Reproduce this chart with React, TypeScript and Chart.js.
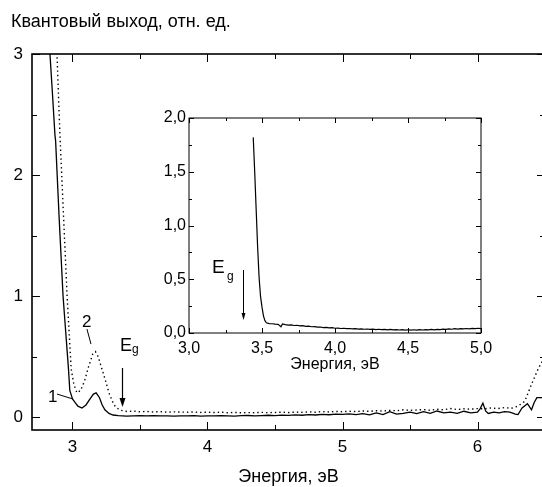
import { useEffect, useRef } from "react";
import { Chart, registerables } from "chart.js";

Chart.register(...registerables);

// ---------- data ----------
const curve1Energy = [2.82, 2.833, 2.85, 2.87, 2.875, 2.9, 2.93, 2.95, 2.97, 2.98, 3.0, 3.02, 3.04, 3.07, 3.1, 3.13, 3.155, 3.175, 3.2, 3.22, 3.24, 3.27, 3.3, 3.34, 3.4, 3.45, 3.5, 3.55, 3.6, 3.65, 3.7, 3.75, 3.8, 3.85, 3.9, 3.95, 4.0, 4.05, 4.1, 4.15, 4.2, 4.25, 4.3, 4.35, 4.4, 4.45, 4.5, 4.55, 4.6, 4.65, 4.7, 4.75, 4.8, 4.85, 4.9, 4.95, 5.0, 5.05, 5.1, 5.15, 5.2, 5.25, 5.3, 5.35, 5.4, 5.45, 5.5, 5.55, 5.6, 5.65, 5.7, 5.75, 5.8, 5.85, 5.9, 5.95, 6.0, 6.02, 6.04, 6.06, 6.08, 6.12, 6.16, 6.2, 6.24, 6.28, 6.3, 6.33, 6.37, 6.4, 6.42, 6.44, 6.5];
const curve1Yield = [3.4, 3.0, 2.7, 2.33, 2.28, 1.67, 1.0, 0.7, 0.4, 0.22, 0.15, 0.12, 0.09, 0.075, 0.1, 0.15, 0.19, 0.2, 0.16, 0.1, 0.06, 0.03, 0.017, 0.012, 0.008, 0.01, 0.012, 0.01, 0.011, 0.009, 0.01, 0.008, 0.01, 0.009, 0.011, 0.008, 0.01, 0.009, 0.012, 0.01, 0.008, 0.011, 0.013, 0.01, 0.012, 0.015, 0.012, 0.016, 0.014, 0.018, 0.015, 0.02, 0.017, 0.022, 0.019, 0.024, 0.022, 0.026, 0.02, 0.028, 0.018, 0.035, 0.02, 0.045, 0.025, 0.03, 0.04, 0.028, 0.045, 0.03, 0.05, 0.035, 0.04, 0.03, 0.048, 0.035, 0.04, 0.07, 0.115, 0.05, 0.03, 0.04, 0.035, 0.045, 0.04, 0.025, 0.02, 0.075, 0.11, 0.06, 0.12, 0.16, 0.16];

const curve2Energy = [2.87, 2.885, 2.907, 2.93, 2.96, 2.99, 3.01, 3.033, 3.06, 3.09, 3.12, 3.15, 3.17, 3.19, 3.22, 3.25, 3.27, 3.3, 3.32, 3.36, 3.41, 3.45, 3.5, 3.55, 3.6, 3.65, 3.7, 3.75, 3.8, 3.85, 3.9, 3.95, 4.0, 4.05, 4.1, 4.15, 4.2, 4.25, 4.3, 4.35, 4.4, 4.45, 4.5, 4.55, 4.6, 4.65, 4.7, 4.75, 4.8, 4.85, 4.9, 4.95, 5.0, 5.05, 5.1, 5.15, 5.2, 5.25, 5.3, 5.35, 5.4, 5.45, 5.5, 5.55, 5.6, 5.65, 5.7, 5.75, 5.8, 5.85, 5.9, 5.95, 6.0, 6.05, 6.1, 6.15, 6.2, 6.25, 6.3, 6.35, 6.4, 6.45, 6.5];
const curve2Yield = [3.3, 3.0, 2.33, 1.75, 1.0, 0.4, 0.27, 0.2, 0.22, 0.3, 0.42, 0.52, 0.54, 0.5, 0.39, 0.28, 0.2, 0.12, 0.08, 0.055, 0.045, 0.05, 0.044, 0.046, 0.042, 0.045, 0.04, 0.043, 0.041, 0.04, 0.042, 0.038, 0.04, 0.037, 0.04, 0.036, 0.038, 0.035, 0.037, 0.036, 0.039, 0.036, 0.038, 0.04, 0.037, 0.041, 0.039, 0.043, 0.04, 0.045, 0.042, 0.046, 0.044, 0.048, 0.045, 0.05, 0.047, 0.052, 0.05, 0.055, 0.052, 0.06, 0.055, 0.058, 0.062, 0.056, 0.065, 0.06, 0.07, 0.062, 0.068, 0.065, 0.07, 0.068, 0.075, 0.07, 0.078, 0.072, 0.09, 0.13, 0.27, 0.4, 0.5];

const insetEnergy = [3.44, 3.45, 3.46, 3.47, 3.48, 3.49, 3.5, 3.51, 3.52, 3.53, 3.55, 3.57, 3.59, 3.61, 3.63, 3.64, 3.66, 3.68, 3.7, 3.72, 3.74, 3.76, 3.78, 3.8, 3.82, 3.84, 3.86, 3.88, 3.9, 3.92, 3.94, 3.96, 3.98, 4.0, 4.02, 4.04, 4.06, 4.08, 4.1, 4.12, 4.14, 4.16, 4.18, 4.2, 4.22, 4.24, 4.26, 4.28, 4.3, 4.32, 4.34, 4.36, 4.38, 4.4, 4.42, 4.44, 4.46, 4.48, 4.5, 4.52, 4.54, 4.56, 4.58, 4.6, 4.62, 4.64, 4.66, 4.68, 4.7, 4.72, 4.74, 4.76, 4.78, 4.8, 4.82, 4.84, 4.86, 4.88, 4.9, 4.92, 4.94, 4.96, 4.98, 5.0];
const insetYield = [1.82, 1.5, 1.15, 0.8, 0.52, 0.34, 0.24, 0.16, 0.115, 0.095, 0.088, 0.086, 0.082, 0.08, 0.058, 0.085, 0.078, 0.074, 0.076, 0.07, 0.072, 0.066, 0.068, 0.062, 0.064, 0.058, 0.06, 0.054, 0.056, 0.05, 0.052, 0.048, 0.05, 0.044, 0.046, 0.042, 0.044, 0.04, 0.042, 0.038, 0.04, 0.036, 0.039, 0.035, 0.037, 0.033, 0.036, 0.032, 0.035, 0.031, 0.034, 0.03, 0.033, 0.029, 0.032, 0.028, 0.031, 0.027, 0.03, 0.026, 0.03, 0.027, 0.031, 0.028, 0.032, 0.029, 0.033, 0.03, 0.034, 0.031, 0.036, 0.033, 0.038, 0.035, 0.04, 0.036, 0.041, 0.038, 0.042, 0.039, 0.043, 0.04, 0.044, 0.041];

const mainXTicks = [3, 4, 5, 6];
const mainXMinor = [3, 3.5, 4, 4.5, 5, 5.5, 6, 6.5];
const mainYTicks = [0, 1, 2, 3];
const mainYMinor = [0, 0.5, 1, 1.5, 2, 2.5, 3];
const insetXTicks = [3, 3.5, 4, 4.5, 5];
const insetXMinor = [3, 3.25, 3.5, 3.75, 4, 4.25, 4.5, 4.75, 5];
const insetYTicks = [0, 0.5, 1, 1.5, 2];
const insetYMinor = [0, 0.25, 0.5, 0.75, 1, 1.25, 1.5, 1.75, 2];

const yTitle = "Квантовый выход, отн. ед.";
const xTitle = "Энергия, эВ";

const FONT = '"Liberation Sans", Arial, sans-serif';

// ---------- layout ----------
const W = 556;
const H = 487;
const IL = 140;
const IT = 95;
const IW = 360;
const IH = 290;

function toPts(xs: number[], ys: number[]) {
  return xs.map((x, i) => ({ x, y: ys[i] }));
}

function line(ctx: CanvasRenderingContext2D, x1: number, y1: number, x2: number, y2: number) {
  ctx.beginPath();
  ctx.moveTo(x1, y1);
  ctx.lineTo(x2, y2);
  ctx.stroke();
}

function arrow(ctx: CanvasRenderingContext2D, x: number, y1: number, y2: number, hw: number, hl: number) {
  ctx.beginPath();
  ctx.moveTo(x, y1);
  ctx.lineTo(x, y2 - hl + 1);
  ctx.stroke();
  ctx.beginPath();
  ctx.moveTo(x - hw, y2 - hl);
  ctx.lineTo(x + hw, y2 - hl);
  ctx.lineTo(x, y2);
  ctx.closePath();
  ctx.fill();
}

function frameAndTicks(chart: any, xMinor: number[], xMajor: number[], yMinor: number[], yMajor: number[], lw: number, lMaj: number, lMin: number) {
  const { ctx, chartArea: a, scales } = chart;
  const x = scales.x;
  const y = scales.y;
  ctx.save();
  ctx.strokeStyle = "#000";
  ctx.lineWidth = lw;
  ctx.strokeRect(a.left, a.top, a.right - a.left, a.bottom - a.top);
  ctx.lineWidth = 1;
  for (const v of xMinor) {
    const px = Math.round(x.getPixelForValue(v)) + 0.5;
    const len = xMajor.includes(v) ? lMaj : lMin;
    line(ctx, px, a.bottom, px, a.bottom - len);
    line(ctx, px, a.top, px, a.top + len);
  }
  for (const v of yMinor) {
    const py = Math.round(y.getPixelForValue(v)) + 0.5;
    const len = yMajor.includes(v) ? lMaj : lMin;
    line(ctx, a.left, py, a.left + len, py);
    line(ctx, a.right, py, a.right - len, py);
  }
  ctx.restore();
}

const mainDecor = {
  id: "mainDecor",
  afterDraw(chart: any) {
    frameAndTicks(chart, mainXMinor, mainXTicks, mainYMinor, mainYTicks, 1.6, 8, 5);
    const { ctx } = chart;
    const x = chart.scales.x;
    const y = chart.scales.y;
    const px = (v: number) => x.getPixelForValue(v);
    const py = (v: number) => y.getPixelForValue(v);
    ctx.save();
    ctx.fillStyle = "#000";
    ctx.strokeStyle = "#000";
    ctx.textBaseline = "alphabetic";
    ctx.textAlign = "left";
    ctx.font = `18px ${FONT}`;
    ctx.fillText(yTitle, 11, 27);
    // labels 1 and 2
    ctx.font = `17px ${FONT}`;
    ctx.fillText("1", px(2.8185), py(0.124));
    ctx.fillText("2", px(3.07), py(0.744));
    ctx.lineWidth = 1;
    line(ctx, px(2.885), py(0.19), px(3.004), py(0.149));
    line(ctx, px(3.107), py(0.727), px(3.137), py(0.603));
    // Eg
    ctx.font = `18px ${FONT}`;
    ctx.fillText("E", px(3.352), py(0.545));
    ctx.font = `12px ${FONT}`;
    ctx.fillText("g", px(3.44), py(0.529));
    ctx.lineWidth = 1.2;
    arrow(ctx, Math.round(px(3.367)) + 0.5, py(0.405), py(0.083), 3, 9);
    ctx.restore();
  },
};

const insetDecor = {
  id: "insetDecor",
  afterDraw(chart: any) {
    frameAndTicks(chart, insetXMinor, insetXTicks, insetYMinor, insetYTicks, 1, 5, 3);
    const { ctx } = chart;
    const x = chart.scales.x;
    const y = chart.scales.y;
    const px = (v: number) => x.getPixelForValue(v);
    const py = (v: number) => y.getPixelForValue(v);
    ctx.save();
    ctx.fillStyle = "#000";
    ctx.strokeStyle = "#000";
    ctx.textAlign = "left";
    ctx.textBaseline = "alphabetic";
    ctx.font = `19px ${FONT}`;
    ctx.fillText("E", px(3.158), py(0.558));
    ctx.font = `12px ${FONT}`;
    ctx.fillText("g", px(3.26), py(0.493));
    ctx.lineWidth = 1;
    arrow(ctx, Math.round(px(3.37)) + 0.5, py(0.586), py(0.121), 2, 7);
    ctx.restore();
  },
};

const comma = (v: number) => v.toFixed(1).replace(".", ",");

export default function App() {
  const mainRef = useRef<HTMLCanvasElement>(null);
  const insetRef = useRef<HTMLCanvasElement>(null);

  useEffect(() => {
    const main = new Chart(mainRef.current!, {
      type: "line",
      data: {
        datasets: [
          {
            data: toPts(curve1Energy, curve1Yield),
            borderColor: "#000",
            borderWidth: 1.3,
            pointRadius: 0,
            tension: 0,
            fill: false,
          },
          {
            data: toPts(curve2Energy, curve2Yield),
            borderColor: "#000",
            borderWidth: 1.4,
            borderDash: [1.4, 3],
            pointRadius: 0,
            tension: 0,
            fill: false,
          },
        ],
      },
      options: {
        animation: false,
        responsive: false,
        events: [],
        layout: { padding: { left: 0, top: 54, right: W - 545, bottom: 0 } },
        plugins: { legend: { display: false }, tooltip: { enabled: false }, title: { display: false } },
        scales: {
          x: {
            type: "linear",
            min: 2.7,
            max: 6.5,
            grid: { display: false, drawTicks: false },
            border: { display: false },
            afterBuildTicks: (s: any) => {
              s.ticks = mainXTicks.map((v) => ({ value: v }));
            },
            afterFit: (s: any) => {
              s.height = H - 430;
            },
            ticks: {
              color: "#000",
              font: { family: FONT, size: 17 },
              padding: 7,
              maxRotation: 0,
              autoSkip: false,
              callback: (v: any) => String(v),
            },
            title: {
              display: true,
              text: xTitle,
              color: "#000",
              font: { family: FONT, size: 18 },
              padding: { top: 0, bottom: -1 },
            },
          },
          y: {
            type: "linear",
            min: -0.107,
            max: 3,
            grid: { display: false, drawTicks: false },
            border: { display: false },
            afterBuildTicks: (s: any) => {
              s.ticks = mainYTicks.map((v) => ({ value: v }));
            },
            afterFit: (s: any) => {
              s.width = 32;
            },
            ticks: {
              color: "#000",
              font: { family: FONT, size: 17 },
              padding: 9,
              callback: (v: any) => String(v),
            },
          },
        },
      },
      plugins: [mainDecor],
    });

    const inset = new Chart(insetRef.current!, {
      type: "line",
      data: {
        datasets: [
          {
            data: toPts(insetEnergy, insetYield),
            borderColor: "#000",
            borderWidth: 1.2,
            pointRadius: 0,
            tension: 0,
            fill: false,
          },
        ],
      },
      options: {
        animation: false,
        responsive: false,
        events: [],
        layout: { padding: { left: 0, top: 118 - IT, right: IW - (481 - IL), bottom: 0 } },
        plugins: { legend: { display: false }, tooltip: { enabled: false }, title: { display: false } },
        scales: {
          x: {
            type: "linear",
            min: 3,
            max: 5,
            grid: { display: false, drawTicks: false },
            border: { display: false },
            afterBuildTicks: (s: any) => {
              s.ticks = insetXTicks.map((v) => ({ value: v }));
            },
            afterFit: (s: any) => {
              s.height = IH - (333 - IT);
            },
            ticks: {
              color: "#000",
              font: { family: FONT, size: 16 },
              padding: 6,
              maxRotation: 0,
              autoSkip: false,
              callback: (v: any) => comma(Number(v)),
            },
            title: {
              display: true,
              text: xTitle,
              color: "#000",
              font: { family: FONT, size: 16 },
              padding: { top: 0, bottom: 11 },
            },
          },
          y: {
            type: "linear",
            min: 0,
            max: 2,
            grid: { display: false, drawTicks: false },
            border: { display: false },
            afterBuildTicks: (s: any) => {
              s.ticks = insetYTicks.map((v) => ({ value: v }));
            },
            afterFit: (s: any) => {
              s.width = 189 - IL;
            },
            ticks: {
              color: "#000",
              font: { family: FONT, size: 16 },
              padding: 3,
              callback: (v: any) => comma(Number(v)),
            },
          },
        },
      },
      plugins: [insetDecor],
    });

    return () => {
      main.destroy();
      inset.destroy();
    };
  }, []);

  return (
    <div
      style={{
        position: "fixed",
        left: 0,
        top: 0,
        width: 542,
        height: 487,
        overflow: "hidden",
        background: "#fff",
      }}
    >
      <canvas
        ref={mainRef}
        width={W}
        height={H}
        style={{ position: "absolute", left: 0, top: 0, width: W, height: H }}
      />
      <canvas
        ref={insetRef}
        width={IW}
        height={IH}
        style={{ position: "absolute", left: IL, top: IT, width: IW, height: IH }}
      />
    </div>
  );
}
